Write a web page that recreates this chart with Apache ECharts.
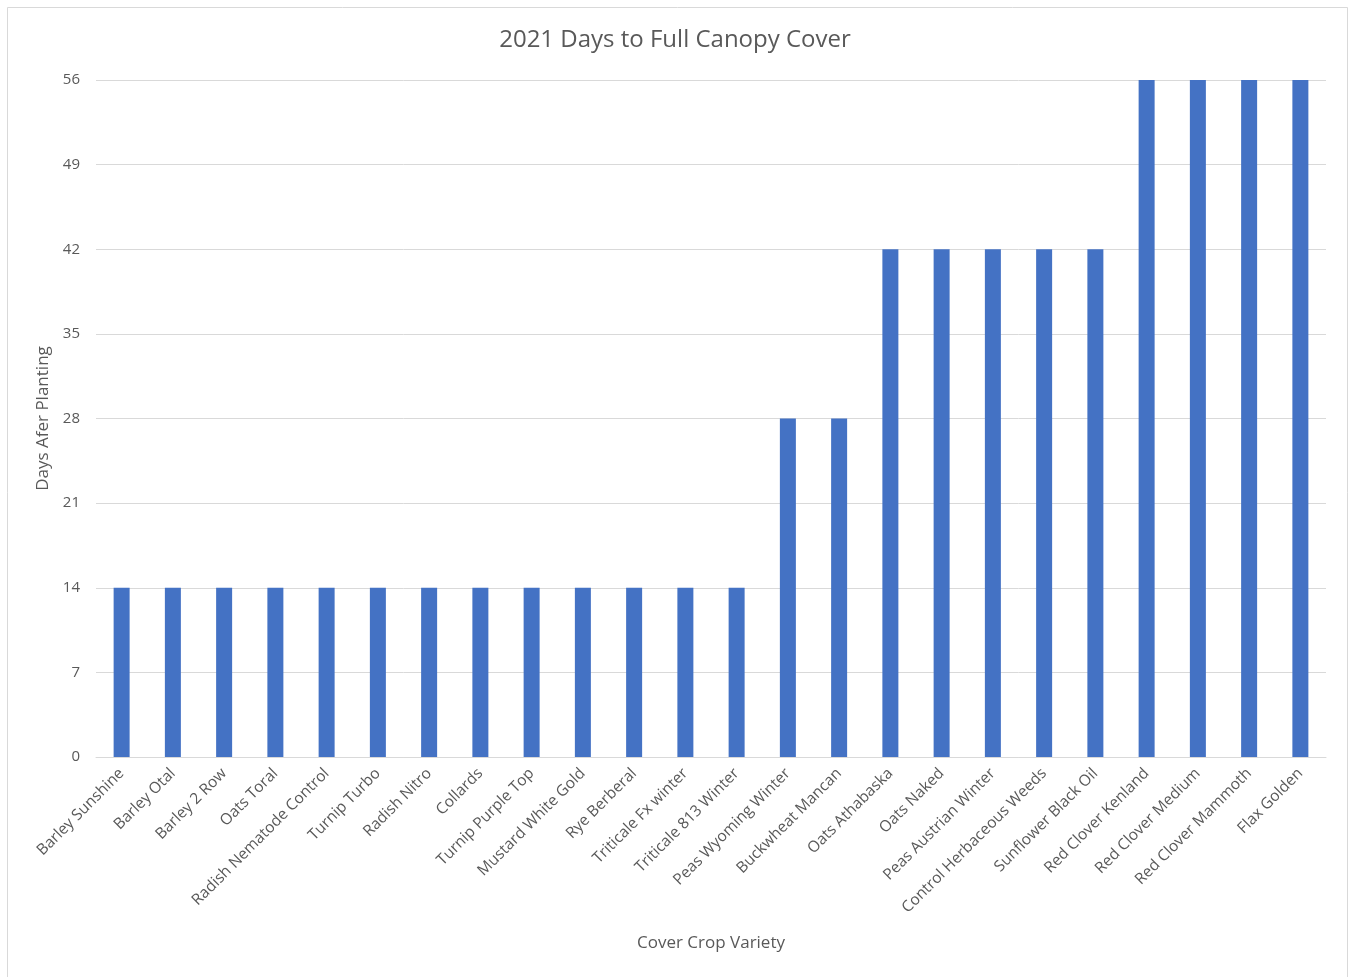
<!DOCTYPE html>
<html>
<head>
<meta charset="utf-8">
<script src="https://cdn.jsdelivr.net/npm/echarts@6/dist/echarts.min.js"></script>
<style>
html,body{margin:0;padding:0;background:#fff;}
#c{width:1350px;height:977px;}
</style>
</head>
<body>
<div id="c"></div>
<script>
const categories = ["Barley Sunshine","Barley Otal","Barley 2 Row","Oats Toral","Radish Nematode Control","Turnip Turbo","Radish Nitro","Collards","Turnip Purple Top","Mustard White Gold","Rye Berberal","Triticale Fx winter","Triticale 813 Winter","Peas Wyoming Winter","Buckwheat Mancan","Oats Athabaska","Oats Naked","Peas Austrian Winter","Control Herbaceous Weeds","Sunflower Black Oil","Red Clover Kenland","Red Clover Medium","Red Clover Mammoth","Flax Golden"];
const daysValues = [14,14,14,14,14,14,14,14,14,14,14,14,14,28,28,42,42,42,42,42,56,56,56,56];
const yTicks = [0,7,14,21,28,35,42,49,56];

const font = "'Open Sans', 'Noto Sans', sans-serif";
const chart = echarts.init(document.getElementById('c'));
chart.setOption({
  animation: false,
  backgroundColor: '#fff',
  title: {
    text: '2021 Days to Full Canopy Cover',
    left: 'center', top: 23,
    textStyle: {fontFamily: font, fontSize: 24, fontWeight: 'normal', color: '#595959'}
  },
  graphic: [{
    type: 'rect', silent: true,
    shape: {x: 7.5, y: 7.5, width: 1340, height: 985},
    style: {fill: 'none', stroke: '#d9d9d9', lineWidth: 1}
  }],
  grid: {left: 96, right: 24, top: 80, bottom: 220},
  xAxis: {
    type: 'category',
    data: categories,
    name: 'Cover Crop Variety',
    nameLocation: 'middle',
    nameGap: 178,
    nameTextStyle: {fontFamily: font, fontSize: 17, color: '#595959'},
    axisLine: {lineStyle: {color: '#d9d9d9', width: 1}},
    axisTick: {show: false},
    axisLabel: {rotate: 45, interval: 0, fontFamily: font, fontSize: 15.5, color: '#595959', margin: 14}
  },
  yAxis: {
    type: 'value',
    min: 0, max: 56, interval: 7,
    name: 'Days Afer Planting',
    nameLocation: 'middle',
    nameGap: 44,
    nameTextStyle: {fontFamily: font, fontSize: 17, color: '#595959'},
    axisLine: {show: false},
    axisTick: {show: false},
    axisLabel: {fontFamily: font, fontSize: 15, color: '#595959', margin: 16,
      formatter: v => yTicks.includes(v) ? String(v) : ''},
    splitLine: {lineStyle: {color: '#d9d9d9', width: 1}}
  },
  series: [{
    type: 'bar',
    data: daysValues,
    barWidth: 16,
    itemStyle: {color: '#4472c4'}
  }]
});
</script>
</body>
</html>
